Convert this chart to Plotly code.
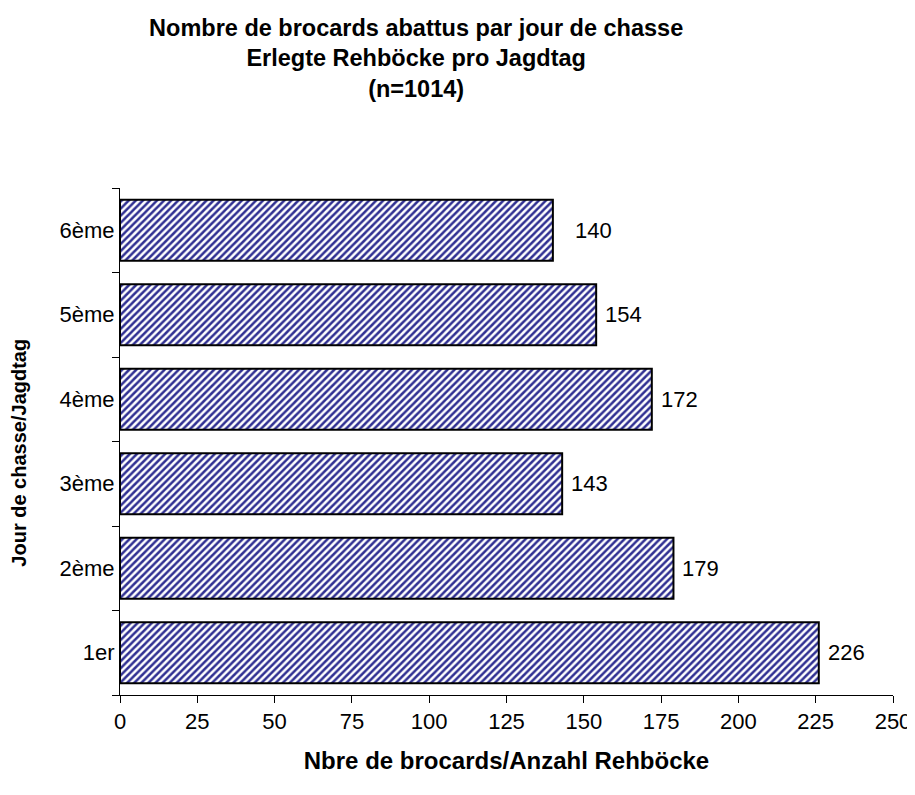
import plotly.graph_objects as go

categories = ["1er", "2ème", "3ème", "4ème", "5ème", "6ème"]
values = [226, 179, 143, 172, 154, 140]
x_ticks = [0, 25, 50, 75, 100, 125, 150, 175, 200, 225, 250]

FONT = "Liberation Sans, Arial, sans-serif"
label_shift = [7, 7, 7, 7, 7, 20]  # pixel gap between bar end and value label

fig = go.Figure(go.Bar(
    y=categories, x=values, orientation="h",
    marker=dict(
        color="white",
        line=dict(color="black", width=2),
        pattern=dict(shape="/", fgcolor="#303092", bgcolor="white",
                     size=5, solidity=0.5, fillmode="replace"),
    ),
    hoverinfo="x+y",
))

for cat, val, sh in zip(categories, values, label_shift):
    fig.add_annotation(x=val, y=cat, text=str(val), showarrow=False,
                       xanchor="left", xshift=sh,
                       font=dict(family=FONT, size=22, color="black"))

# y-axis title placed as a rotated annotation
fig.add_annotation(x=-0.13, y=0.477, xref="paper", yref="paper",
                   text="<b>Jour de chasse/Jagdtag</b>", textangle=-90,
                   showarrow=False, xanchor="center", yanchor="middle",
                   font=dict(family=FONT, size=20, color="black"))

fig.update_layout(
    width=907, height=787,
    paper_bgcolor="white", plot_bgcolor="white",
    margin=dict(l=112, r=22, t=180, b=100),
    bargap=0.28,
    showlegend=False,
    title=dict(
        text="<b>Nombre de brocards abattus par jour de chasse<br>Erlegte Rehböcke pro Jagdtag<br>(n=1014)</b>",
        x=0.45, xanchor="center", yref="container", y=0.965, yanchor="middle",
        font=dict(family=FONT, size=23.5, color="black"),
    ),
    font=dict(family=FONT, size=22, color="black"),
)

fig.update_xaxes(
    range=[0, 250], tickvals=x_ticks, ticktext=[str(t) for t in x_ticks],
    showgrid=False, zeroline=False,
    showline=True, linecolor="black", linewidth=1,
    ticks="outside", ticklen=7, tickcolor="black",
    tickfont=dict(family=FONT, size=22),
    title=dict(text="<b>Nbre de brocards/Anzahl Rehböcke</b>",
               font=dict(family=FONT, size=24), standoff=18),
    automargin=False,
)
fig.update_yaxes(
    showgrid=False, zeroline=False,
    showline=True, linecolor="black", linewidth=1,
    ticks="outside", ticklen=7, tickcolor="black", tickson="boundaries",
    tickfont=dict(family=FONT, size=22),
    automargin=False,
)

fig.write_html("out.html")
